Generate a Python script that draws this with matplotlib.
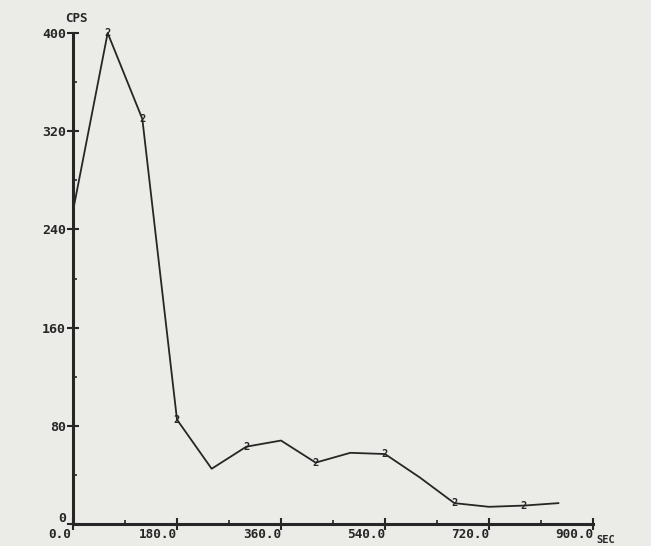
import matplotlib
matplotlib.use("Agg")
import matplotlib.pyplot as plt
from matplotlib.ticker import MultipleLocator
from matplotlib.transforms import ScaledTranslation

# Data
time_sec = [0, 60, 120, 180, 240, 300, 360, 420, 480, 540, 600, 660, 720, 780, 840]
cps = [255, 400, 330, 85, 45, 63, 68, 50, 58, 57, 38, 17, 14, 15, 17]
marked_idx = [1, 2, 3, 5, 7, 9, 11, 13]
marker_label = "2"

x_ticks = [0, 180, 360, 540, 720, 900]
x_tick_labels = ["0.0", "180.0", "360.0", "540.0", "720.0", "900.0"]
y_ticks = [0, 80, 160, 240, 320, 400]
y_tick_labels = ["0", "80", "160", "240", "320", "400"]

bg = "#ebebe8"
ink = "#262626"
font = {"family": "DejaVu Sans Mono", "weight": "bold"}

fig = plt.figure(figsize=(6.51, 5.46), dpi=100, facecolor=bg)
ax = fig.add_axes([73/651, 1-524/546, 520/651, 491/546])
ax.set_facecolor(bg)

ax.plot(time_sec, cps, color=ink, lw=1.3, zorder=3, clip_on=False)
for i in marked_idx:
    ax.text(time_sec[i], cps[i], marker_label, ha="center", va="center",
            fontsize=7.5, color=ink, zorder=4, **font)

ax.set_xlim(0, 900)
ax.set_ylim(0, 400)
for s in ["top", "right"]:
    ax.spines[s].set_visible(False)
for s in ["left", "bottom"]:
    ax.spines[s].set_linewidth(2.2)
    ax.spines[s].set_color(ink)

ax.set_xticks(x_ticks)
ax.set_xticklabels(x_tick_labels, ha="right", color=ink, fontsize=9.2, **font)
ax.set_yticks(y_ticks)
ax.set_yticklabels(y_tick_labels, color=ink, fontsize=9.5, **font)
ax.xaxis.set_minor_locator(MultipleLocator(90))
ax.yaxis.set_minor_locator(MultipleLocator(40))
ax.tick_params(which="major", direction="inout", length=8, width=1.5, color=ink, pad=1)
ax.tick_params(axis="x", which="major", pad=-1)
ax.tick_params(which="minor", direction="in", length=3, width=1.2, color=ink)

# lift the y "0" label slightly above the x axis as in the reference
zero_lbl = ax.get_yticklabels()[0]
zero_lbl.set_transform(zero_lbl.get_transform() + ScaledTranslation(0, 7/100, fig.dpi_scale_trans))
first_x = ax.get_xticklabels()[0]
first_x.set_transform(first_x.get_transform() + ScaledTranslation(-2/100, 0, fig.dpi_scale_trans))

fig.text(76/651, 1-18/546, "CPS", ha="center", va="center", fontsize=9, color=ink, **font)
fig.text(596/651, 1/546, "SEC", ha="left", va="bottom", fontsize=7.5, color=ink, **font)

fig.savefig("out.png", dpi=100, facecolor=bg)
